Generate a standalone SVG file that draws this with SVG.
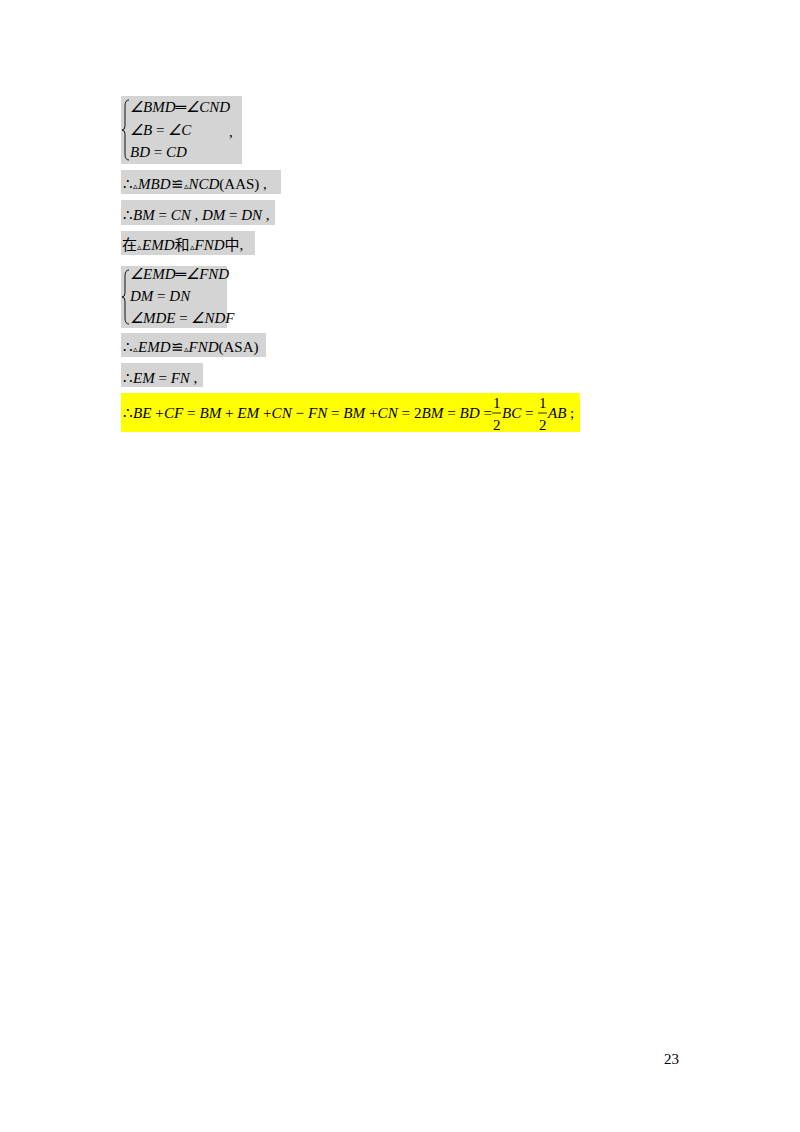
<svg xmlns="http://www.w3.org/2000/svg" width="800" height="1132" viewBox="0 0 800 1132">
<style>
.g{fill:#d4d4d4}
.t{font-family:"Liberation Serif",serif;font-size:15px;fill:#000}
.i{font-style:italic}
.c{font-family:"Liberation Serif","Noto Sans CJK SC",serif;font-size:15px}
.s{font-size:9px}
.br{fill:none;stroke:#000;stroke-width:0.9}
</style>
<rect width="800" height="1132" fill="#fff"/>
<g id="box1">
<rect class="g" x="121" y="96" width="121" height="68"/>
<path class="br" d="M129,100 Q125,100 125,106 L125,126 Q125,130 122,130 Q125,130 125,134 L125,154 Q125,160 129,160"/>
<text class="t i" x="130" y="112">∠BMD<tspan font-style="normal">═</tspan>∠CND</text>
<text class="t i" x="130" y="135">∠B <tspan font-style="normal">=</tspan> ∠C</text>
<text class="t i" x="130" y="157">BD <tspan font-style="normal">=</tspan> CD</text>
<text class="t" x="229" y="137">,</text>
</g>
<g id="box2">
<rect class="g" x="121" y="170" width="160" height="24"/>
<text class="t" x="123" y="189">∴<tspan class="s">▵</tspan><tspan class="i">MBD</tspan>≌<tspan class="s">▵</tspan><tspan class="i">NCD</tspan>(AAS) ,</text>
</g>
<g id="box3">
<rect class="g" x="121" y="200" width="154" height="25"/>
<text class="t" x="123" y="220">∴<tspan class="i">BM</tspan> = <tspan class="i">CN</tspan> ,  <tspan class="i">DM</tspan> = <tspan class="i">DN</tspan> ,</text>
</g>
<g id="box4">
<rect class="g" x="121" y="231" width="134" height="24"/>
<text class="c" x="122" y="250">在<tspan class="s">▵</tspan><tspan font-family="Liberation Serif" font-style="italic">EMD</tspan>和<tspan class="s">▵</tspan><tspan font-family="Liberation Serif" font-style="italic">FND</tspan>中,</text>
</g>
<g id="box5">
<rect class="g" x="121" y="266" width="106" height="62"/>
<path class="br" d="M129,270 Q125,270 125,276 L125,293 Q125,297 122,297 Q125,297 125,301 L125,318 Q125,324 129,324"/>
<text class="t i" x="130" y="279">∠EMD<tspan font-style="normal">═</tspan>∠FND</text>
<text class="t i" x="130" y="301">DM <tspan font-style="normal">=</tspan> DN</text>
<text class="t i" x="130" y="323">∠MDE <tspan font-style="normal">=</tspan> ∠NDF</text>
</g>
<g id="box6">
<rect class="g" x="121" y="333" width="145" height="24"/>
<text class="t" x="123" y="352">∴<tspan class="s">▵</tspan><tspan class="i">EMD</tspan>≌<tspan class="s">▵</tspan><tspan class="i">FND</tspan>(ASA)</text>
</g>
<g id="box7">
<rect class="g" x="121" y="363" width="82" height="24"/>
<text class="t" x="123" y="383">∴<tspan class="i">EM</tspan> = <tspan class="i">FN</tspan> ,</text>
</g>
<g id="box8">
<rect x="121" y="393" width="459" height="39" fill="#ffff00"/>
<text class="t" x="123" y="418" textLength="369" lengthAdjust="spacingAndGlyphs">∴<tspan class="i">BE</tspan> +<tspan class="i">CF</tspan> = <tspan class="i">BM</tspan> + <tspan class="i">EM</tspan> +<tspan class="i">CN</tspan> − <tspan class="i">FN</tspan> = <tspan class="i">BM</tspan> +<tspan class="i">CN</tspan> = 2<tspan class="i">BM</tspan> = <tspan class="i">BD</tspan> =</text>
<text class="t" x="493" y="408">1</text>
<line x1="492" y1="413" x2="501" y2="413" stroke="#000" stroke-width="0.8"/>
<text class="t" x="493" y="430">2</text>
<text class="t" x="502" y="418"><tspan class="i">BC</tspan> =</text>
<text class="t" x="539" y="408">1</text>
<line x1="538" y1="413" x2="547" y2="413" stroke="#000" stroke-width="0.8"/>
<text class="t" x="539" y="430">2</text>
<text class="t" x="548" y="418"><tspan class="i">AB</tspan> ;</text>
</g>
<text class="t" x="664" y="1064" font-size="13">23</text>
</svg>
